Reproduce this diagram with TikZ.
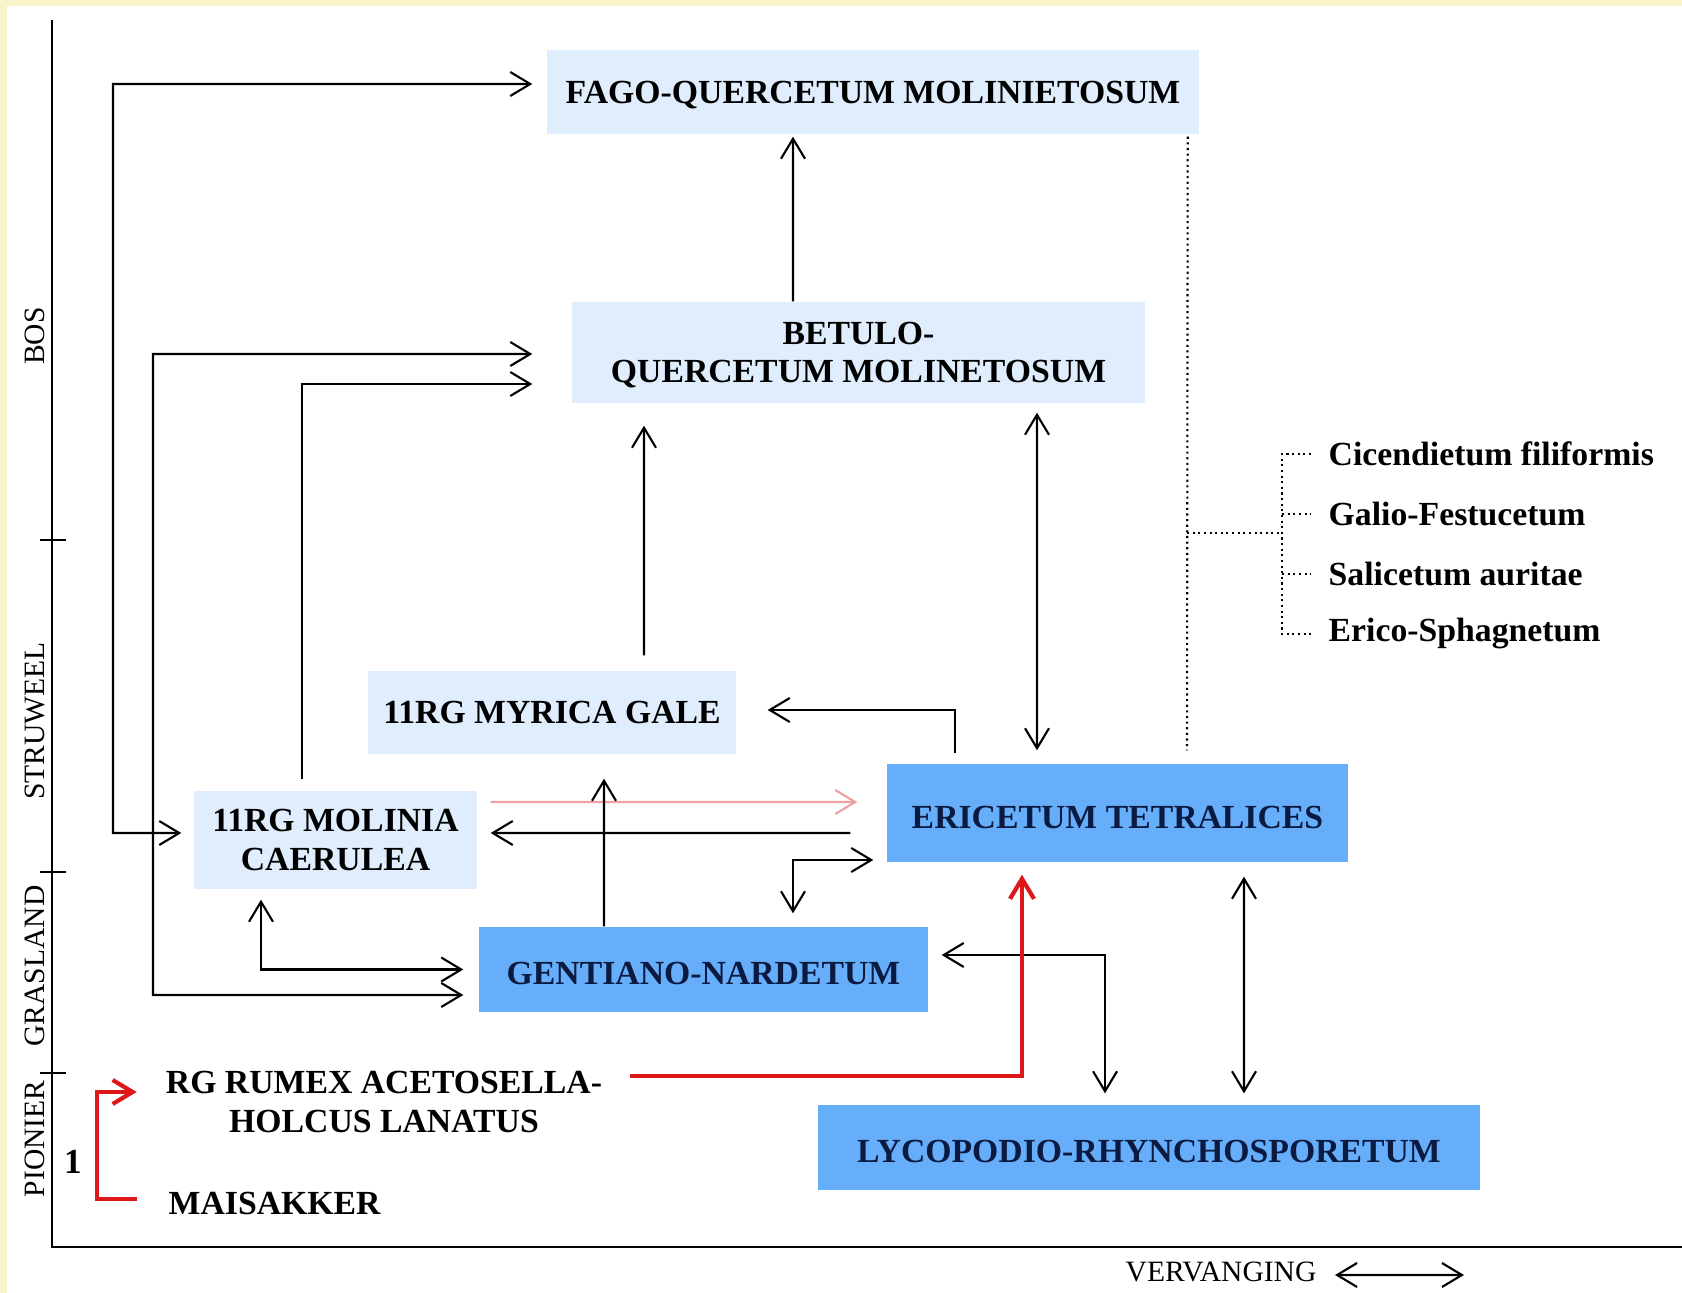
\documentclass[tikz,border=0pt]{standalone}
\usepackage{fontspec}
\setmainfont{Liberation Serif}
\usetikzlibrary{arrows.meta, positioning}
\definecolor{paleblue}{RGB}{223,237,253}
\definecolor{midblue}{RGB}{102,174,250}
\definecolor{navy}{RGB}{10,26,64}
\definecolor{succred}{RGB}{222,24,24}
\definecolor{succpink}{RGB}{238,160,160}
\definecolor{cream}{RGB}{247,243,203}
\tikzset{
  >={Straight Barb[length=2mm,width=2.4mm]},
  every node/.style={inner sep=0pt, align=center, font=\fontsize{9.6}{11}\selectfont\bfseries},
  pale/.style={fill=paleblue, text depth=0pt},
  dark/.style={fill=midblue, text=navy, text height=3mm, text depth=0pt},
  zone/.style={rotate=90, font=\fontsize{8.4}{10}\selectfont},
  link/.style={line width=0.6pt},
  redlink/.style={line width=1.2pt, draw=succred},
  tree/.style={densely dotted, line width=0.6pt},
}

\begin{document}
\begin{tikzpicture}[x=0.1mm, y=-0.1mm]
  % page
  \fill[cream] (0,0) rectangle (1682,1293);
  \fill[white] (7,6) rectangle (1682,1293);
  \useasboundingbox (0,0) rectangle (1682,1293);

  % axes
  \draw[line width=0.7pt] (52,20) -- (52,1247) -- (1682,1247);
  \foreach \y in {540,872,1073}
    \draw[link] (40,\y) -- (66,\y);
  \node[zone] (bos) at (35,336) {BOS};
  \node[zone] (struweel) at (35,721) {STRUWEEL};
  \node[zone] (grasland) at (35,966) {GRASLAND};
  \node[zone] (pionier) at (35,1139) {PIONIER};
  \node[font=\fontsize{8.4}{10}\selectfont, anchor=east] (vervanging) at (1317,1272) {VERVANGING};
  \coordinate (vvend) at (1464,1275);
  \draw[link,<->] ([xshift=1.8mm,yshift=-0.3mm]vervanging.east) -- (vvend);

  % communities
  \node[pale, minimum width=65.2mm, minimum height=8.4mm] (fago) at (873,92) {FAGO-QUERCETUM MOLINIETOSUM};
  \node[pale, minimum width=57.3mm, minimum height=10.1mm] (betulo) at (858.5,352.5) {BETULO-\\QUERCETUM MOLINETOSUM};
  \node[pale, minimum width=36.8mm, minimum height=8.3mm] (myrica) at (552,712.5) {11RG MYRICA GALE};
  \node[pale, minimum width=28.3mm, minimum height=9.8mm] (molinia) at (335.5,840) {11RG MOLINIA\\CAERULEA};
  \node[dark, minimum width=46.1mm, minimum height=9.8mm] (ericetum) at (1117.5,813) {ERICETUM TETRALICES};
  \node[dark, minimum width=44.9mm, minimum height=8.5mm] (gentiano) at (703.5,969.5) {GENTIANO-NARDETUM};
  \node[dark, minimum width=66.2mm, minimum height=8.5mm] (lycopodio) at (1149,1147.5) {LYCOPODIO-RHYNCHOSPORETUM};
  \node[minimum width=43.3mm, minimum height=8mm] (rumex) at (384,1102) {RG RUMEX ACETOSELLA-\\HOLCUS LANATUS};
  \node[anchor=west] (maisakker) at (168,1203) {MAISAKKER};
  \node[font=\fontsize{10}{12}\selectfont\bfseries] (one) at (73,1162) {1};

  % side list
  \node[anchor=west] (cic) at (1328,454) {Cicendietum filiformis};
  \node[anchor=west] (gal) at (1328,514) {Galio-Festucetum};
  \node[anchor=west] (sal) at (1328,574) {Salicetum auritae};
  \node[anchor=west] (eri) at (1328,634) {Erico-Sphagnetum};

  % transitions
  \draw[link,<->] ([xshift=-1.2mm,yshift=0.7mm]molinia.west) -| (113,84) -- ([xshift=-1.4mm,yshift=0.8mm]fago.west);
  \draw[link,<->] ([xshift=-1.5mm,yshift=-2.55mm]gentiano.west) -| (153,354) -- ([xshift=-3.9mm,yshift=-0.15mm]betulo.west);
  \draw[link,->] ([xshift=-3.35mm,yshift=1.1mm]molinia.north) |- ([xshift=-3.9mm,yshift=-3.15mm]betulo.west);
  \draw[link,<->] ([xshift=-7.45mm,yshift=-1mm]molinia.south) |- ([xshift=-1.5mm]gentiano.west);
  \draw[link,->,succpink] ([xshift=1.3mm,yshift=3.8mm]molinia.east) -- ([xshift=-2.9mm,yshift=1.1mm]ericetum.west);
  \draw[link,->] ([xshift=-3.6mm,yshift=-2mm]ericetum.west) -- ([xshift=1.3mm,yshift=0.7mm]molinia.east);
  \draw[link,->] ([xshift=-9.95mm]gentiano.north) -- ([xshift=5.2mm,yshift=-2.4mm]myrica.south);
  \draw[link,<->] ([xshift=8.95mm,yshift=1.3mm]gentiano.north) |- ([xshift=-1.3mm,yshift=-4.7mm]ericetum.west);
  \draw[link,->] ([xshift=-16.25mm,yshift=1mm]ericetum.north) |- ([xshift=3.1mm,yshift=0.25mm]myrica.east);
  \draw[link,->] ([xshift=9.2mm,yshift=1.5mm]myrica.north) -- ([xshift=-21.45mm,yshift=-2.2mm]betulo.south);
  \draw[link,->] ([xshift=-6.55mm]betulo.north) -- ([xshift=-8mm,yshift=-0.2mm]fago.south);
  \draw[link,<->] ([xshift=17.85mm,yshift=-0.9mm]betulo.south) -- ([xshift=-8.05mm,yshift=1.3mm]ericetum.north);
  \draw[link,<->] ([xshift=1.3mm,yshift=1.45mm]gentiano.east) -| ([xshift=-4.4mm,yshift=1.1mm]lycopodio.north);
  \draw[link,<->] ([xshift=12.65mm,yshift=-1.4mm]ericetum.south) -- ([xshift=9.5mm,yshift=1.1mm]lycopodio.north);

  % pioneer route
  \draw[redlink,->] ([xshift=2.7mm,yshift=2.6mm]rumex.east) -| ([xshift=-9.55mm,yshift=-1.2mm]ericetum.south);
  \draw[redlink,->] ([xshift=-3.1mm,yshift=0.4mm]maisakker.west) -| (97,1150) |- ([xshift=-2.85mm,yshift=1mm]rumex.west);

  % dotted bracket
  \draw[tree] ([xshift=-1.2mm,yshift=-0.2mm]fago.south east) -- ([xshift=6.95mm,yshift=1.3mm]ericetum.north);
  \draw[tree] (1187,533) -- (1282,533);
  \draw[tree] ([xshift=-1.7mm]cic.west) -| (1282,533) |- ([xshift=-1.7mm]eri.west);
  \draw[tree] (1282,514) -- ([xshift=-1.7mm]gal.west);
  \draw[tree] (1282,574) -- ([xshift=-1.7mm]sal.west);
\end{tikzpicture}
\end{document}
